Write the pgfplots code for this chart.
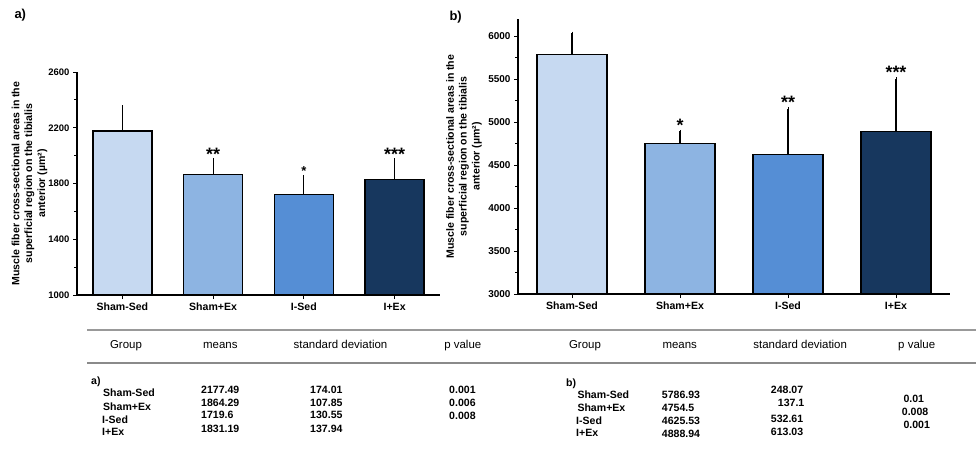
\documentclass[border=0pt]{standalone}
\usepackage{pgfplots}
\pgfplotsset{compat=1.18}
\usepackage{fontspec}
\setmainfont{Liberation Sans}
\definecolor{c1}{HTML}{C6D9F1}
\definecolor{c2}{HTML}{8DB4E2}
\definecolor{c3}{HTML}{558ED5}
\definecolor{c4}{HTML}{17375E}
\definecolor{rule}{HTML}{999999}
\newcommand{\fs}[1]{\fontsize{#1}{#1}\selectfont}
\tikzset{star/.style={font=\bfseries\fs{#1}}}
\begin{document}
\begin{tikzpicture}
\path[use as bounding box] (0,0) rectangle (976bp,-456bp);
\pgfplotsset{
  panel/.style={
    scale only axis,
    anchor=south west,
    ybar,
    axis x line=bottom, axis y line=left,
    axis line style={-, line width=1.1bp, black},
    xmin=-0.5, xmax=3.5,
    xtick={0,1,2,3},
    xticklabels={Sham-Sed,Sham+Ex,I-Sed,I+Ex},
    tick align=outside,
    major tick length=4bp, minor tick length=3bp,
    every tick/.style={line width=1bp, black},
    xticklabel style={font=\bfseries\fs{10.6}, text height=7.6bp, text depth=2bp},
    yticklabel style={font=\bfseries\fs{9.5}},
    /pgf/number format/assume math mode=true,
    /pgf/number format/set thousands separator={},
    minor y tick num=1,
  },
  bar/.style={draw=black, line width=1.3bp, fill=#1, bar shift=0pt,
    error bars/.cd, y dir=plus, y explicit,
    error bar style={line width=1.1bp, black},
    error mark options={line width=1bp, mark size=1.6bp, black}},
}
% ---------- panel a ----------
\begin{axis}[panel, at={(77bp,-295bp)}, width=363bp, height=223bp,
  ymin=1000, ymax=2600, ytick={1000,1400,1800,2200,2600}, bar width=59bp]
\addplot[bar=c1] coordinates {(0,2177.49) +- (0,174.01)};
\addplot[bar=c2] coordinates {(1,1864.29) +- (0,107.85)};
\addplot[bar=c3] coordinates {(2,1719.6) +- (0,130.55)};
\addplot[bar=c4] coordinates {(3,1831.19) +- (0,137.94)};
\node[star=18] at (axis cs:1,2010) {**};
\node[star=13] at (axis cs:2,1890) {*};
\node[star=18] at (axis cs:3,2010) {***};
\end{axis}
% ---------- panel b ----------
\begin{axis}[panel, at={(518bp,-294bp)}, width=432bp, height=275bp,
  ymin=3000, ymax=6200, ytick={3000,3500,...,6000}, bar width=70bp,
  yticklabel style={font=\bfseries\fs{10}}]
\addplot[bar=c1] coordinates {(0,5786.93) +- (0,248.07)};
\addplot[bar=c2] coordinates {(1,4754.5) +- (0,137.1)};
\addplot[bar=c3] coordinates {(2,4625.53) +- (0,532.61)};
\addplot[bar=c4] coordinates {(3,4888.94) +- (0,613.03)};
\node[star=18] at (axis cs:1,4965) {*};
\node[star=18] at (axis cs:2,5230) {**};
\node[star=18] at (axis cs:3,5580) {***};
\end{axis}
\begin{scope}[x=1bp,y=-1bp]
% panel letters and y labels
\node[anchor=west, font=\bfseries\fs{13}] at (11,15) {a)};
\node[anchor=west, font=\bfseries\fs{13}] at (446,17) {b)};
\node[rotate=90, align=center, font=\bfseries\fontsize{10.6}{12.9}\selectfont] at (29.5,183.5)
  {Muscle fiber cross-sectional areas in the\\superficial region on the tibialis\\anterior (µm²)};
\node[rotate=90, align=center, font=\bfseries\fontsize{10.6}{12.9}\selectfont] at (464,156.5)
  {Muscle fiber cross-sectional areas in the\\superficial region on the tibialis\\anterior (µm²)};
% table rules
\draw[rule, line width=1.3bp] (87,330) -- (976,330);
\draw[rule!90!black, line width=2.4bp] (87,363) -- (976,363);
% headers
\begin{scope}[every node/.style={anchor=mid, font=\fs{11.5}}]
\node at (126,346) {Group};
\node at (220.3,346) {means};
\node at (340.5,346) {standard deviation};
\node at (462.8,346) {p value};
\node at (585,346) {Group};
\node at (679.7,346) {means};
\node at (800.2,346) {standard deviation};
\node at (916.7,346) {p value};
\end{scope}
\begin{scope}[every node/.style={anchor=mid west, inner sep=0pt, font=\bfseries\fs{10.6}}]
% table a
\node at (91,382) {a)};
\node at (103,394) {Sham-Sed};
\node at (103,407.5) {Sham+Ex};
\node at (102,421) {I-Sed};
\node at (102,433) {I+Ex};
\node at (201,390.5) {2177.49};
\node at (201,403.5) {1864.29};
\node at (201,416) {1719.6};
\node at (201,429.5) {1831.19};
\node at (310,390.5) {174.01};
\node at (310,403.5) {107.85};
\node at (310,416) {130.55};
\node at (310,429.5) {137.94};
\node at (449,391) {0.001};
\node at (449,404) {0.006};
\node at (449,416.5) {0.008};
% table b
\node at (566,384) {b)};
\node at (577.3,396) {Sham-Sed};
\node at (577.3,409) {Sham+Ex};
\node at (576,421.5) {I-Sed};
\node at (576,434) {I+Ex};
\node at (661.7,396) {5786.93};
\node at (661.7,409) {4754.5};
\node at (661.7,421.5) {4625.53};
\node at (661.7,434.5) {4888.94};
\node at (770.7,391) {248.07};
\node at (777.7,404) {137.1};
\node at (770.7,420) {532.61};
\node at (770.7,432.7) {613.03};
\node at (903.3,400) {0.01};
\node at (901.7,412.7) {0.008};
\node at (903.3,426) {0.001};
\end{scope}
\end{scope}
\end{tikzpicture}
\end{document}
